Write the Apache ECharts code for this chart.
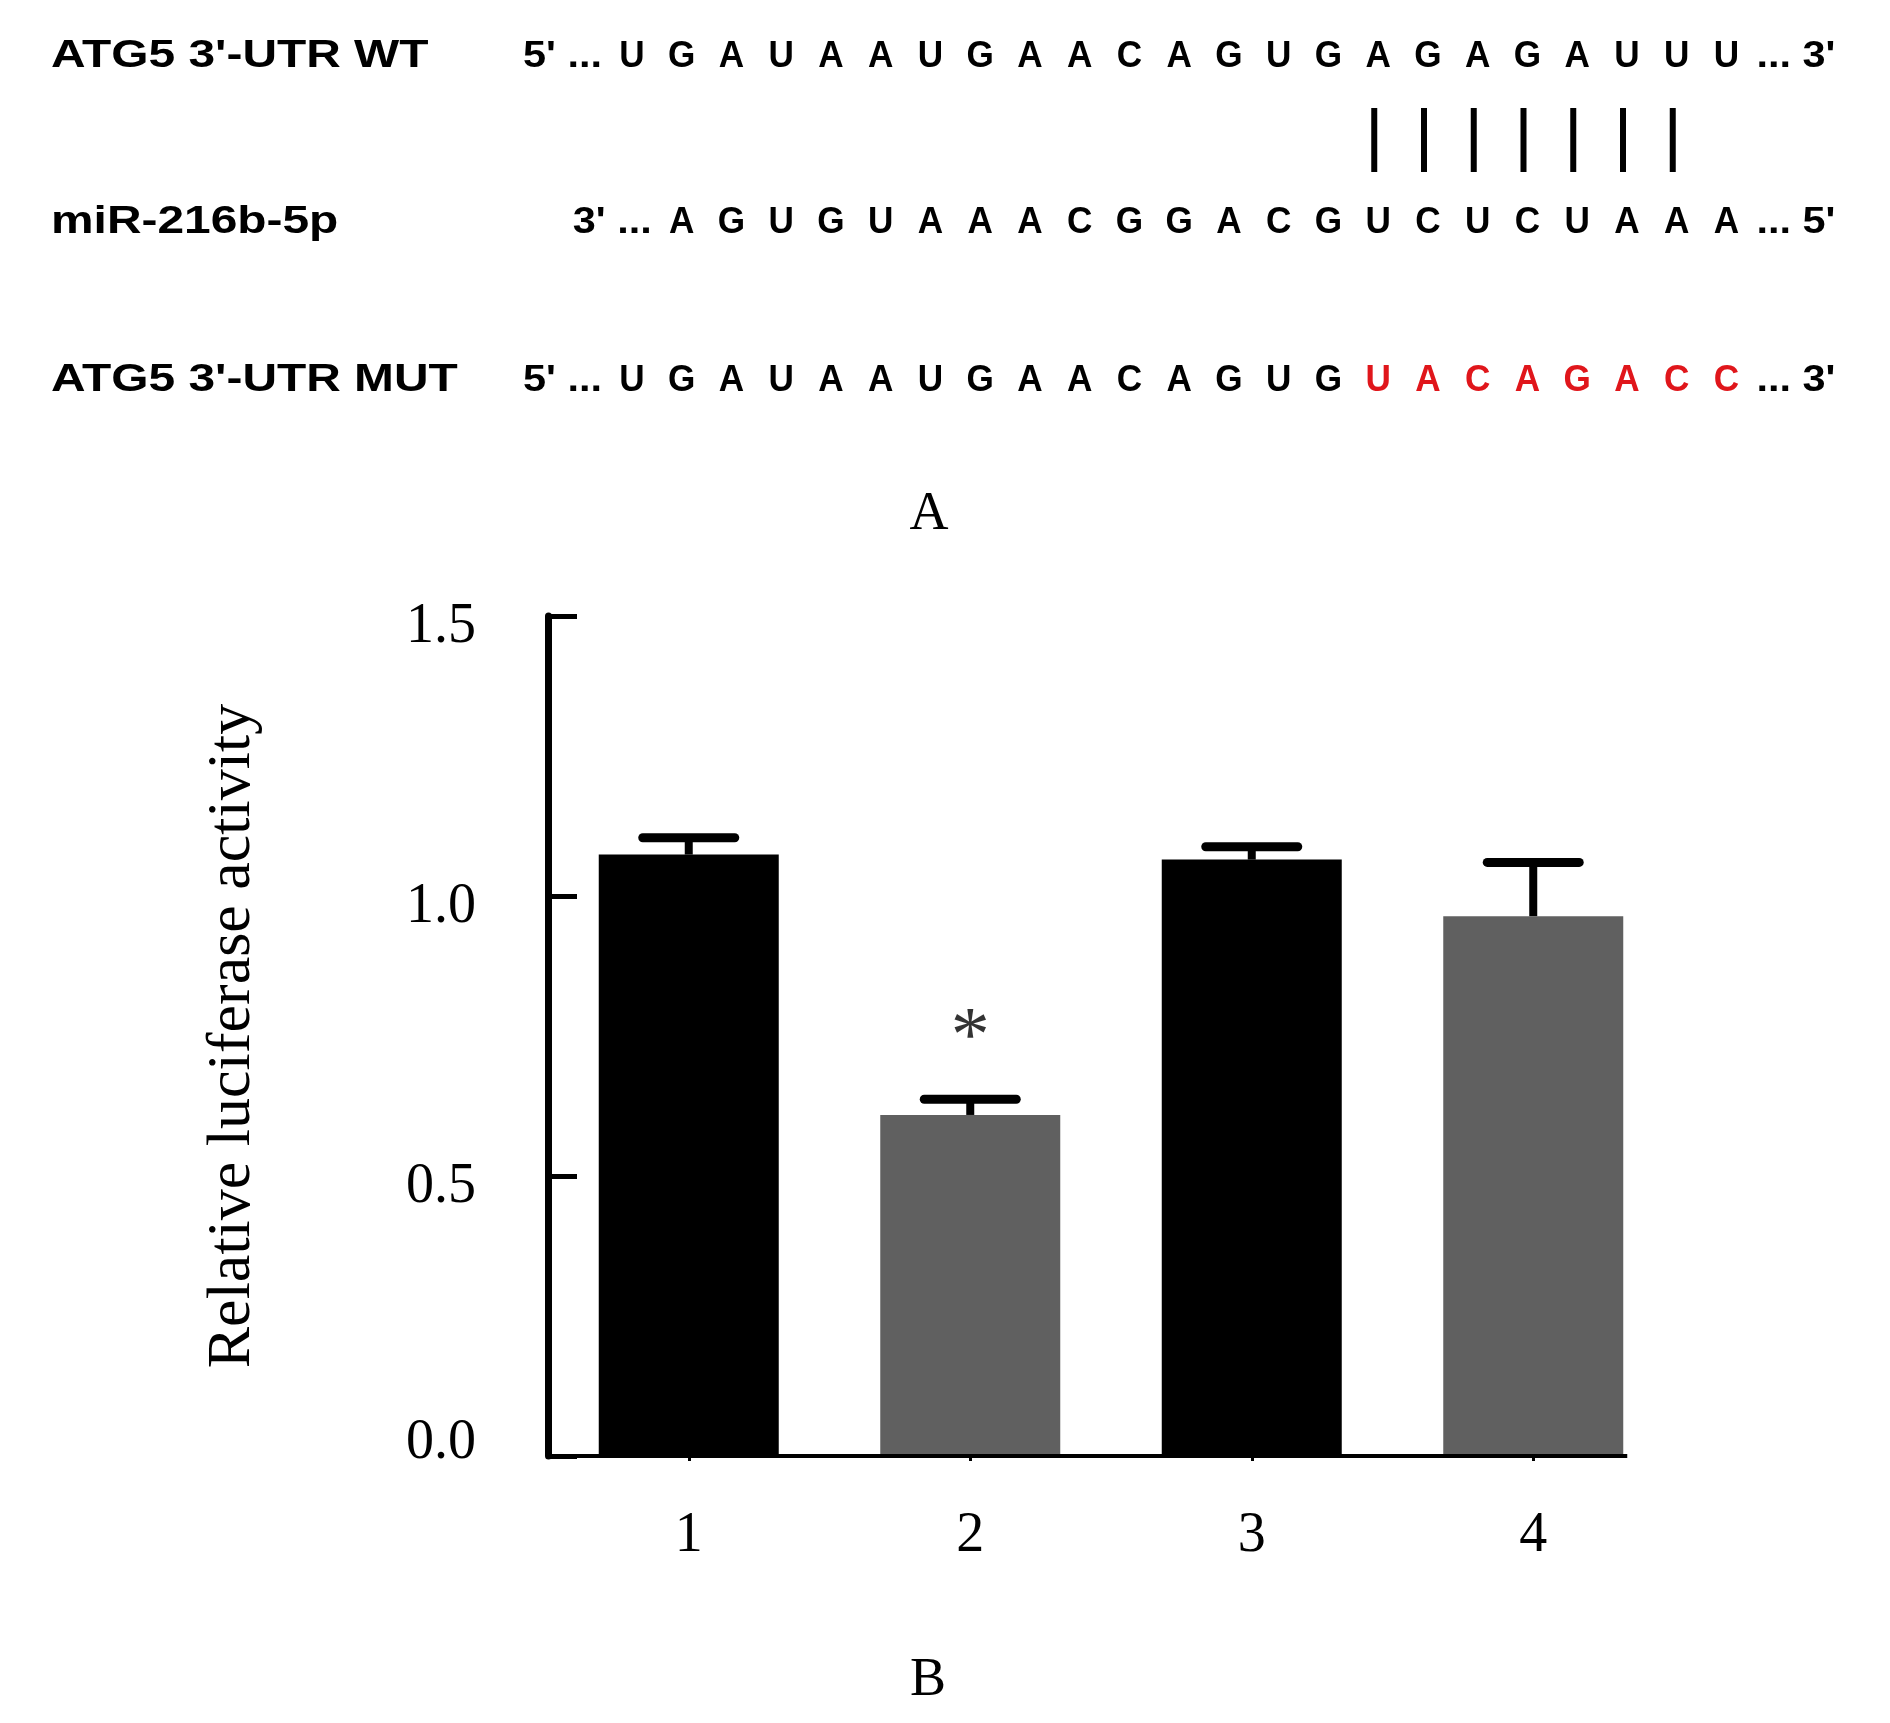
<!DOCTYPE html>
<html><head><meta charset="utf-8">
<script src="https://cdn.jsdelivr.net/npm/echarts@6/dist/echarts.min.js"></script>
<style>html,body{margin:0;padding:0;background:#fff}#c{width:1890px;height:1723px}</style>
</head><body><div id="c"></div>
<script>
// ---- Panel B data ----
const categories = ['1', '2', '3', '4'];
const barValues = [1.074, 0.609, 1.065, 0.964];
const errorUpper = [1.104, 0.637, 1.088, 1.060];
const barColors = ['#000000', '#606060', '#000000', '#606060'];
const starCategoryIndex = 1;
const starValue = 0.78;
const yMin = 0, yMax = 1.5, yStep = 0.5;
const yTitle = 'Relative luciferase activity';

// ---- Panel A sequences ----
const seqLabels = ["ATG5 3'-UTR WT", "miR-216b-5p", "ATG5 3'-UTR MUT"];
const wtSeq = 'UGAUAAUGAACAGUGAGAGAUUU';
const mirSeq = 'AGUGUAAACGGACGUCUCUAAA';
const mutSeqBlack = 'UGAUAAUGAACAGUG';
const mutSeqRed = 'UACAGACC';
const prefixes = ["5' ...", "3' ...", "5' ..."];
const suffixes = ["... 3'", "... 5'", "... 3'"];
const pairStart = 15, pairCount = 7;
const panelLabels = ['A', 'B'];

// ---- layout ----
const X0 = 632, STEP = 49.75;
const ROWY = [57, 223, 381];
const SEQ_FONT = 'bold 37px "Liberation Sans", Arial, sans-serif';
const LBL_FONT = 'bold 38px "Liberation Sans", Arial, sans-serif';
const SERIF = '"Liberation Serif", "Times New Roman", serif';
const RED = '#e0161b';
const BAR_W = 180;

const graphics = [];
function txt(text, x, y, font, fill, align, extra) {
  graphics.push(Object.assign({
    type: 'text', x: x, y: y,
    style: { text: text, font: font, fill: fill, textAlign: align, textVerticalAlign: 'middle', align: align, verticalAlign: 'middle' }
  }, extra || {}));
}
// row labels
seqLabels.forEach((l, r) => txt(l, 51, ROWY[r], LBL_FONT, '#000', 'left', { scaleX: 1.26 }));
// rows of letters
const rows = [
  { letters: wtSeq.split('').map(c => [c, '#000']), offset: 0 },
  { letters: mirSeq.split('').map(c => [c, '#000']), offset: 1 },
  { letters: mutSeqBlack.split('').map(c => [c, '#000']).concat(mutSeqRed.split('').map(c => [c, RED])), offset: 0 }
];
rows.forEach((row, r) => {
  const y = ROWY[r];
  row.letters.forEach((lc, i) => txt(lc[0], X0 + (row.offset + i) * STEP, y, SEQ_FONT, lc[1], 'center', { scaleX: 0.95 }));
  const first = X0 + row.offset * STEP;
  const last = X0 + (row.offset + row.letters.length - 1) * STEP;
  txt(prefixes[r], first - 30, y, SEQ_FONT, '#000', 'right', { scaleX: 1.12 });
  txt(suffixes[r], last + 30, y, SEQ_FONT, '#000', 'left', { scaleX: 1.12 });
});
// base-pair lines
for (let k = 0; k < pairCount; k++) {
  const x = X0 + (pairStart + k) * STEP - 4;
  graphics.push({ type: 'line', shape: { x1: x, y1: 108, x2: x, y2: 172 }, style: { stroke: '#000', lineWidth: 6 } });
}
// panel labels
txt(panelLabels[0], 929, 515, '54px ' + SERIF, '#000', 'center');
txt(panelLabels[1], 928, 1681, '54px ' + SERIF, '#000', 'center');

const tickFont = { fontFamily: SERIF, fontSize: 56, color: '#000' };
const chart = echarts.init(document.getElementById('c'), null, { renderer: 'canvas' });
chart.setOption({
  backgroundColor: '#ffffff',
  animation: false,
  grid: { left: 548, top: 616, bottom: 267, right: 216, containLabel: false },
  xAxis: {
    type: 'category', data: categories,
    axisLine: { show: false },
    axisTick: { show: true, alignWithLabel: true, length: 5, lineStyle: { color: '#000', width: 3 } },
    axisLabel: Object.assign({ margin: 52 }, tickFont),
    splitLine: { show: false }
  },
  yAxis: {
    type: 'value', min: yMin, max: yMax, interval: yStep,
    name: yTitle, nameLocation: 'middle', nameRotate: 90, nameGap: 284,
    nameTextStyle: { color: '#000', fontFamily: SERIF, fontSize: 62 },
    axisLine: { show: true, lineStyle: { color: '#000', width: 7 } },
    axisTick: { show: true, inside: true, length: 29, lineStyle: { color: '#000', width: 5 } },
    axisLabel: {
      margin: 72,
      formatter: v => (v === 0 ? '{z|' : '{n|') + v.toFixed(1) + '}',
      rich: {
        n: Object.assign({ padding: [22, 0, 0, 0] }, tickFont),
        z: Object.assign({ padding: [0, 0, 26, 0] }, tickFont)
      }
    },
    splitLine: { show: false }
  },
  graphic: { elements: graphics },
  series: [
    {
      type: 'bar', barWidth: BAR_W, z: 2,
      data: barValues.map((v, i) => ({ value: v, itemStyle: { color: barColors[i] } }))
    },
    {
      type: 'custom', z: 3,
      encode: { x: 0, y: [1, 2] },
      data: categories.map((c, i) => [i, barValues[i], errorUpper[i]]),
      renderItem: function (params, api) {
        const base = api.coord([api.value(0), api.value(1)]);
        const top = api.coord([api.value(0), api.value(2)]);
        const half = 46;
        return {
          type: 'group', children: [
            { type: 'line', shape: { x1: base[0], y1: base[1], x2: base[0], y2: top[1] }, style: { stroke: '#000', lineWidth: 8 } },
            { type: 'line', shape: { x1: base[0] - half, y1: top[1], x2: base[0] + half, y2: top[1] }, style: { stroke: '#000', lineWidth: 9, lineCap: 'round' } }
          ]
        };
      }
    },
    {
      type: 'scatter', z: 4, symbolSize: 1, itemStyle: { color: 'rgba(0,0,0,0)' },
      data: [[starCategoryIndex, starValue]],
      label: { show: true, position: 'inside', formatter: '*', color: '#000', fontFamily: SERIF, fontSize: 78, offset: [0, 20] }
    }
  ]
});

// x baseline: from the y axis to the right edge of the last bar (positions from the chart's own scales)
const p0 = chart.convertToPixel({ xAxisIndex: 0, yAxisIndex: 0 }, [0, yMin]);
const pN = chart.convertToPixel({ xAxisIndex: 0, yAxisIndex: 0 }, [categories.length - 1, yMin]);
const gridLeft = 548;
graphics.push({
  type: 'line', z: 10,
  shape: { x1: gridLeft, y1: p0[1], x2: pN[0] + BAR_W / 2 + 4, y2: p0[1] },
  style: { stroke: '#000', lineWidth: 4 }
});
chart.setOption({ graphic: { elements: graphics } });
</script></body></html>
